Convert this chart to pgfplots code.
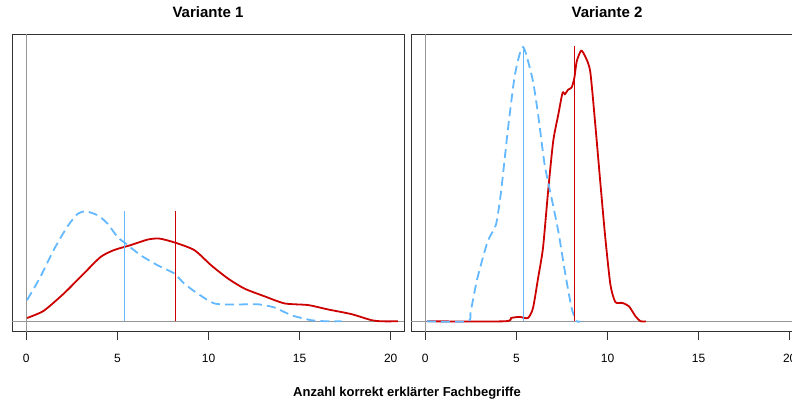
\documentclass[border=0pt]{standalone}
\usepackage{pgfplots}
\pgfplotsset{compat=1.18}
\usepackage{fontspec}
\setmainfont{Liberation Sans}
\definecolor{myred}{RGB}{205,0,0}
\definecolor{myblue}{RGB}{99,184,255}
\definecolor{boxgray}{RGB}{50,50,50}
\definecolor{zerogray}{RGB}{150,150,150}
\pgfplotsset{
  panel/.style={
    anchor=south west,
    width=392pt, height=297.4pt, scale only axis,
    xmin=-0.785, xmax=20.73, ymin=-0.0378, ymax=1.0436,
    axis line style={draw=boxgray, line width=1pt},
    xtick={0,5,10,15,20}, ytick=\empty, xtick pos=bottom,
    tick align=outside, major tick length=8pt,
    xtick style={draw=boxgray, line width=0.8pt},
    xticklabel style={font=\fontsize{12}{14}\selectfont, anchor=base, yshift=-23pt},
    /pgf/number format/assume math mode=true,
    title style={font=\bfseries\fontsize{15}{17}\selectfont, anchor=base, yshift=10.3pt},
    clip=true,
  },
  redline/.style={draw=myred, line width=1.8pt, smooth, tension=0.4},
  blueline/.style={draw=myblue, line width=1.8pt, smooth, tension=0.4, dash pattern=on 9pt off 5pt},
}
\begin{document}
\begin{tikzpicture}
\begin{axis}[panel, at={(12pt,67.3pt)}, title={Variante 1}]
\addplot[draw=zerogray, line width=1pt] coordinates {(-2,0) (22,0)};
\addplot[draw=zerogray, line width=1pt] coordinates {(0,-0.2) (0,1.2)};
\addplot[redline] coordinates {
(0.04,0.012) (0.95,0.038) (2.06,0.101) (3.16,0.174) (4.08,0.234) (4.81,0.259) (5.73,0.277) (6.65,0.297) (7.29,0.301) (8.12,0.287) (9.22,0.259) (10.14,0.204) (11.06,0.156) (11.97,0.119) (13.07,0.091) (14.18,0.065) (15.47,0.059) (16.57,0.043) (17.85,0.026) (18.95,0.004) (19.5,0) (20.4,0)};
\addplot[blueline] coordinates {
(0.04,0.077) (0.77,0.161) (1.5,0.259) (2.24,0.343) (2.79,0.389) (3.25,0.40) (3.9,0.386) (4.45,0.356) (5.0,0.307) (5.45,0.283) (6.28,0.240) (7.2,0.204) (8.12,0.174) (8.67,0.137) (9.4,0.101) (10.32,0.065) (11.42,0.061) (12.71,0.062) (13.63,0.050) (14.55,0.022) (15.65,0.004) (16.5,0) (17.3,0)};
\addplot[draw=myblue, line width=1pt] coordinates {(5.38,0) (5.38,0.401)};
\addplot[draw=myred, line width=1pt] coordinates {(8.2,0) (8.2,0.401)};
\end{axis}
\begin{axis}[panel, at={(411pt,67.3pt)}, title={Variante 2}]
\addplot[draw=zerogray, line width=1pt] coordinates {(-2,0) (22,0)};
\addplot[draw=zerogray, line width=1pt] coordinates {(0,-0.2) (0,1.2)};
\addplot[redline] coordinates {
(0.09,0) (4.34,0) (4.71,0.012) (5.17,0.016) (5.63,0.012) (5.91,0.048) (6.19,0.157) (6.46,0.267) (6.74,0.473) (7.02,0.655) (7.3,0.752) (7.53,0.83) (7.66,0.826) (7.85,0.843) (8.03,0.85) (8.18,0.885) (8.31,0.945) (8.55,0.984) (8.77,0.964) (9.05,0.909) (9.33,0.715) (9.6,0.509) (9.88,0.303) (10.16,0.133) (10.43,0.07) (10.8,0.067) (11.17,0.055) (11.54,0.018) (11.82,0) (12.1,0)};
\addplot[blueline] coordinates {
(0.09,0) (2.31,0) (2.49,0.036) (2.86,0.157) (3.42,0.29) (3.88,0.352) (4.16,0.473) (4.52,0.69) (4.89,0.885) (5.17,0.97) (5.36,0.997) (5.54,0.97) (5.91,0.873) (6.19,0.752) (6.55,0.57) (6.93,0.448) (7.3,0.327) (7.66,0.182) (8.03,0.048) (8.31,0) (8.5,0)};
\addplot[draw=myblue, line width=1pt] coordinates {(5.4,0) (5.4,1.0)};
\addplot[draw=myred, line width=1pt] coordinates {(8.21,0) (8.21,1.0)};
\end{axis}
\node[font=\bfseries\fontsize{13}{15}\selectfont, anchor=base] at (407pt,2.3pt) {Anzahl korrekt erklärter Fachbegriffe};
\pgfresetboundingbox
\path[use as bounding box] (0,0) rectangle (792pt,399pt);
\end{tikzpicture}
\end{document}
